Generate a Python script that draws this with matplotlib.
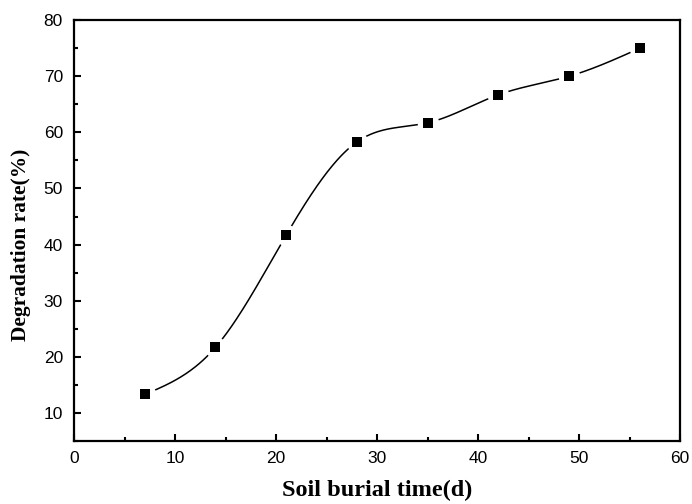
import numpy as np
import matplotlib
matplotlib.use("Agg")
import matplotlib.pyplot as plt
from matplotlib.ticker import MultipleLocator

days = [7, 14, 21, 28, 35, 42, 49, 56]
rate = [13.3, 21.7, 41.7, 58.3, 61.7, 66.7, 70.0, 75.0]


def natural_spline(x, y, n=400):
    x = np.asarray(x, float)
    y = np.asarray(y, float)
    m = len(x)
    h = np.diff(x)
    A = np.zeros((m, m))
    b = np.zeros(m)
    A[0, 0] = A[-1, -1] = 1
    for i in range(1, m - 1):
        A[i, i - 1] = h[i - 1]
        A[i, i] = 2 * (h[i - 1] + h[i])
        A[i, i + 1] = h[i]
        b[i] = 3 * ((y[i + 1] - y[i]) / h[i] - (y[i] - y[i - 1]) / h[i - 1])
    c = np.linalg.solve(A, b)
    xs = np.linspace(x[0], x[-1], n)
    ys = np.empty_like(xs)
    for k, xv in enumerate(xs):
        i = min(np.searchsorted(x, xv, side="right") - 1, m - 2)
        dx = xv - x[i]
        bi = (y[i + 1] - y[i]) / h[i] - h[i] * (2 * c[i] + c[i + 1]) / 3
        di = (c[i + 1] - c[i]) / (3 * h[i])
        ys[k] = y[i] + bi * dx + c[i] * dx ** 2 + di * dx ** 3
    return xs, ys


fig = plt.figure(figsize=(6.92, 5.04), dpi=100)
ax = fig.add_axes([0.107, 0.125, 0.876, 0.835])

xs, ys = natural_spline(days, rate)
ax.plot(xs, ys, color="black", lw=1.1, zorder=2)
# white halo leaving a gap between the curve and each marker
ax.plot(days, rate, ls="none", marker="o", ms=15.5, color="white",
        markeredgewidth=0, zorder=3)
ax.plot(days, rate, ls="none", marker="s", ms=7.2, color="black",
        markeredgewidth=0, zorder=4)

ax.set_xlim(0, 60)
ax.set_ylim(5, 80)
ax.xaxis.set_major_locator(MultipleLocator(10))
ax.xaxis.set_minor_locator(MultipleLocator(5))
ax.yaxis.set_minor_locator(MultipleLocator(5))
ax.set_yticks([10, 20, 30, 40, 50, 60, 70, 80])

for s in ax.spines.values():
    s.set_linewidth(1.6)
ax.tick_params(which="both", direction="in", width=1.5, top=False, right=False)
ax.tick_params(which="major", length=5, labelsize=12.5)
ax.tick_params(axis="x", which="major", pad=7)
ax.tick_params(axis="y", which="major", pad=8)
ax.tick_params(which="minor", length=3)
for lab in ax.get_xticklabels() + ax.get_yticklabels():
    lab.set_fontfamily("Liberation Sans")

ax.set_xlabel("Soil burial time(d)", fontfamily="Liberation Serif",
              fontweight="bold", fontsize=17.5, labelpad=10)
ax.set_ylabel("Degradation rate(%)", fontfamily="Liberation Serif",
              fontweight="bold", fontsize=15.4)
ax.yaxis.set_label_coords(-0.071, 0.466)

fig.savefig("out.png", dpi=100)
